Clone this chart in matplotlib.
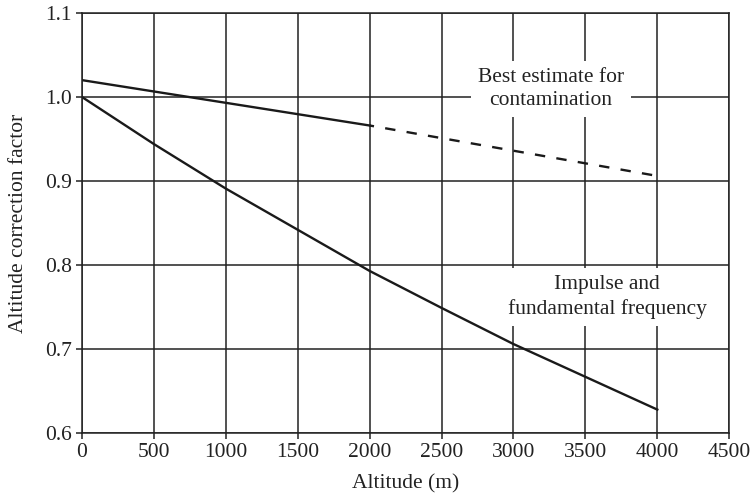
import numpy as np
import matplotlib.pyplot as plt

# data
altitude = [0, 500, 1000, 1500, 2000, 2500, 3000, 3500, 4000]
impulse_factor = [1.000, 0.944, 0.891, 0.842, 0.793, 0.749, 0.706, 0.667, 0.628]

contam_alt = [0, 2000]
contam_factor = [1.020, 0.966]
contam_est_alt = [2000, 4000]
contam_est_factor = [0.966, 0.906]

xticks = [0, 500, 1000, 1500, 2000, 2500, 3000, 3500, 4000, 4500]
yticks = [0.6, 0.7, 0.8, 0.9, 1.0, 1.1]

plt.rcParams['font.family'] = ['Liberation Serif', 'DejaVu Serif']
FS = 15.5

fig = plt.figure(figsize=(7.51, 4.95), dpi=100)
ax = fig.add_axes([0.109, 0.125, 0.862, 0.849])

ax.set_xlim(0, 4500)
ax.set_ylim(0.6, 1.1)
ax.set_xticks(xticks)
ax.set_yticks(yticks)
ax.set_xticklabels([str(v) for v in xticks])
ax.set_yticklabels(['%.1f' % v for v in yticks])
ax.grid(True, color='#222222', linewidth=1.1)
ax.set_axisbelow(True)
for s in ax.spines.values():
    s.set_linewidth(1.1)
    s.set_color('#222222')
ax.tick_params(direction='out', length=4, width=1.1, labelsize=FS, colors='#222222', pad=3)

ax.plot(altitude, impulse_factor, color='#1a1a1a', linewidth=1.7)
ax.plot(contam_alt, contam_factor, color='#1a1a1a', linewidth=1.7)
ax.plot(contam_est_alt, contam_est_factor, color='#1a1a1a', linewidth=1.7,
        linestyle=(2.5, (4.4, 4.8)))

box = dict(facecolor='white', edgecolor='none', pad=5)
ax.text(3262, 1.009, 'Best estimate for\ncontamination', ha='center', va='center',
        fontsize=FS, color='#222222', bbox=box, linespacing=1.3)
ax.text(3651, 0.762, 'Impulse and\nfundamental frequency', ha='center', va='center',
        fontsize=FS, color='#222222', bbox=box, linespacing=1.3)

ax.set_xlabel('Altitude (m)', fontsize=FS, color='#222222', labelpad=9)
ax.set_ylabel('Altitude correction factor', fontsize=FS, color='#222222', labelpad=12)

fig.savefig('out.png', dpi=100)
